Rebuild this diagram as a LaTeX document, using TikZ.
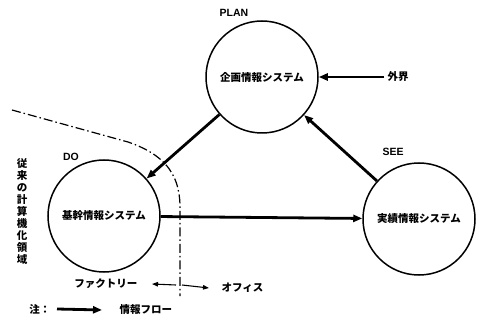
\documentclass[tikz,border=0pt]{standalone}
\usepackage{fontspec}
\setmainfont{Liberation Sans}
\newfontfamily\jp{Noto Sans CJK JP}
\usetikzlibrary{arrows.meta}
\begin{document}
\begin{tikzpicture}[x=1pt,y=-1pt,
  sys/.style={circle,draw,line width=1.5pt,minimum size=112pt,inner sep=0pt,font=\jp\bfseries\fontsize{10.5}{12}\selectfont},
  tag/.style={font=\bfseries\fontsize{10.5}{12}\selectfont},
  jlabel/.style={font=\jp\bfseries\fontsize{10.5}{12}\selectfont},
  flow/.style={line width=2.8pt,-{Triangle[length=9pt,width=7pt]}},
  thin/.style={line width=1.1pt,-{Triangle[length=6pt,width=4.5pt]}},
  boundary/.style={line width=1.2pt,dash pattern=on 9pt off 3pt on 1.5pt off 3pt}
]
\useasboundingbox (0,0) rectangle (479,320);
\node[sys] (plan) at (262,77) {企画情報システム};
\node[sys] (do) at (104,216) {基幹情報システム};
\node[sys] (see) at (419,219) {実績情報システム};
\node[tag] (plantag) at (234,13) {PLAN};
\node[tag] (dotag) at (71,157) {DO};
\node[tag] (seetag) at (393,152) {SEE};
\node[jlabel,anchor=west] (gai) at (384,77) {外界};
\draw[flow] (gai.west) -- (plan.east);
\draw[flow] (plan) -- (do);
\draw[flow] (see) -- (plan);
\draw[flow] (do) -- (see);
\node[jlabel,align=center,inner sep=0pt] (area) at (22,212) {\fontsize{10.5}{13.2}\selectfont 従\\来\\の\\計\\算\\機\\化\\領\\域};
\draw[boundary] (12,110) -- (128,142) .. controls (175,158) and (181,185) .. (180,215) -- (180,296);
\node[jlabel,anchor=east] (fac) at (141,284) {ファクトリー};
\node[jlabel,anchor=west] (off) at (218,288) {オフィス};
\coordinate (mid) at (180,285);
\draw[thin] ([xshift=-4pt]mid) -- ([xshift=11pt]fac.east);
\draw[thin] ([xshift=2pt]mid) -- ([xshift=-9pt]off.west);
\node[jlabel,anchor=east] (note) at (54,309) {注：};
\node[jlabel,anchor=west] (flowtxt) at (116,310) {情報フロー};
\draw[flow] ([xshift=3pt]note.east) -- ([xshift=-14pt]flowtxt.west);
\end{tikzpicture}
\end{document}
